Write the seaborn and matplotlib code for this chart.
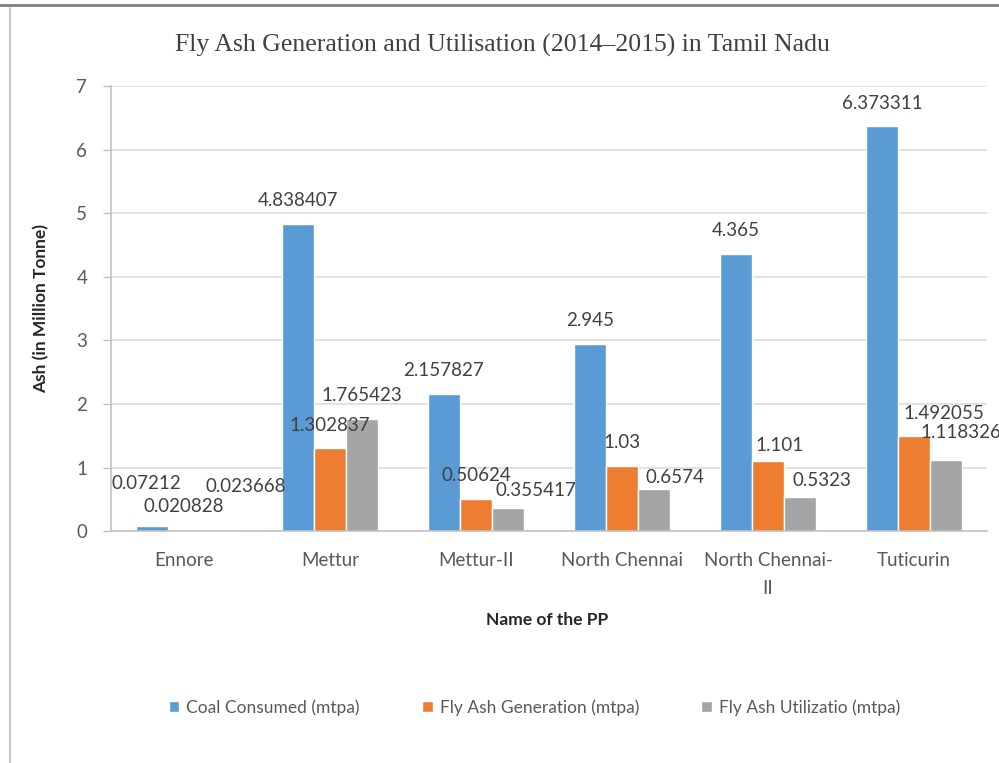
import matplotlib
matplotlib.use("Agg")
import matplotlib.pyplot as plt
from matplotlib.lines import Line2D
import pandas as pd
import seaborn as sns

# data
plants = ["Ennore", "Mettur", "Mettur-II", "North Chennai", "North Chennai-II", "Tuticurin"]
tick_labels = ["Ennore", "Mettur", "Mettur-II", "North Chennai", "North Chennai-\nII", "Tuticurin"]
series_names = ["Coal Consumed (mtpa)", "Fly Ash Generation (mtpa)", "Fly Ash Utilizatio (mtpa)"]
coal_consumed = [0.07212, 4.838407, 2.157827, 2.945, 4.365, 6.373311]
fly_ash_generation = [0.020828, 1.302837, 0.50624, 1.03, 1.101, 1.492055]
fly_ash_utilization = [0.023668, 1.765423, 0.355417, 0.6574, 0.5323, 1.118326]

title = "Fly Ash Generation and Utilisation (2014\u20132015) in Tamil Nadu"
y_title = "Ash (in Million Tonne)"
x_title = "Name of the PP"

colors = ["#5B9BD5", "#ED7D31", "#A5A5A5"]
text_grey = "#595959"

# label nudges in pixels (series index, plant index) -> (dx, dy), to mimic Excel's placement
label_nudge = {
    (0, 0): (-5, 20),
    (2, 0): (30, 20),
    (2, 2): (28, -5),
    (2, 3): (21, -11),
    (1, 4): (12, -7),
    (2, 4): (22, -6),
    (1, 5): (30, 0),
    (2, 5): (15, 4),
}

df = pd.DataFrame({
    "plant": plants * 3,
    "series": [s for s in series_names for _ in plants],
    "value": coal_consumed + fly_ash_generation + fly_ash_utilization,
})

sns.set_theme(style="white")
plt.rcParams["font.family"] = ["Lato", "DejaVu Sans"]

fig = plt.figure(figsize=(9.99, 7.63), dpi=100)
ax = fig.add_axes([0.111, 0.304, 0.877, 0.583])

sns.barplot(
    data=df, x="plant", y="value", hue="series", order=plants, hue_order=series_names,
    palette=colors, width=0.66, gap=0, saturation=1, ax=ax, legend=True,
)

ax.set_ylim(0, 7)
ax.set_yticks(range(0, 8))
ax.yaxis.grid(True, color="#D9D9D9", linewidth=1.1)
ax.set_axisbelow(True)
ax.tick_params(axis="y", left=True, length=6, width=1, color="#BFBFBF", pad=11,
               labelsize=13.5, labelcolor=text_grey)
ax.tick_params(axis="x", bottom=False, pad=9, labelsize=13.5, labelcolor=text_grey)
ax.set_xticks(range(len(plants)))
ax.set_xticklabels(tick_labels, linespacing=1.8, va="top")

for side in ["top", "right"]:
    ax.spines[side].set_visible(False)
for side in ["left", "bottom"]:
    ax.spines[side].set_color("#BFBFBF")
    ax.spines[side].set_linewidth(1.1)

ax.set_ylabel(y_title, fontsize=12.5, fontweight="bold", color="#262626")
ax.yaxis.set_label_coords(-0.07, 0.5)
ax.set_xlabel(x_title, fontsize=12.5, fontweight="bold", color="#262626")
ax.xaxis.set_label_coords(0.498, -0.182)

# value labels above bars
for si, container in enumerate(ax.containers):
    for pi, bar in enumerate(container):
        dx, dy = label_nudge.get((si, pi), (0, 0))
        ax.annotate(
            str(df["value"].iloc[si * len(plants) + pi]),
            (bar.get_x() + bar.get_width() / 2, bar.get_height()),
            xytext=(dx, 23 + dy), textcoords="offset pixels",
            ha="center", va="center", fontsize=13.5, color="#404040",
            annotation_clip=False,
        )

handles, labels = ax.get_legend_handles_labels()
ax.get_legend().remove()
fig.legend(
    handles, labels, loc="center", bbox_to_anchor=(0.535, 0.073), ncol=3,
    frameon=False, fontsize=12.5, handlelength=0.6, handleheight=0.6,
    handletextpad=0.4, columnspacing=3.6, labelcolor=text_grey,
)

fig.text(0.503, 0.94, title, ha="center", va="center", fontsize=18.5,
         family=["Liberation Serif", "DejaVu Serif"], color="#404040")

# chart frame lines from the pasted screenshot
fig.add_artist(Line2D([0, 1], [0.993, 0.993], color="#7F7F7F", linewidth=2))
fig.add_artist(Line2D([0.010, 0.010], [0, 0.99], color="#C8C8C8", linewidth=1.5))

fig.savefig("out.png", dpi=100, facecolor="white")
